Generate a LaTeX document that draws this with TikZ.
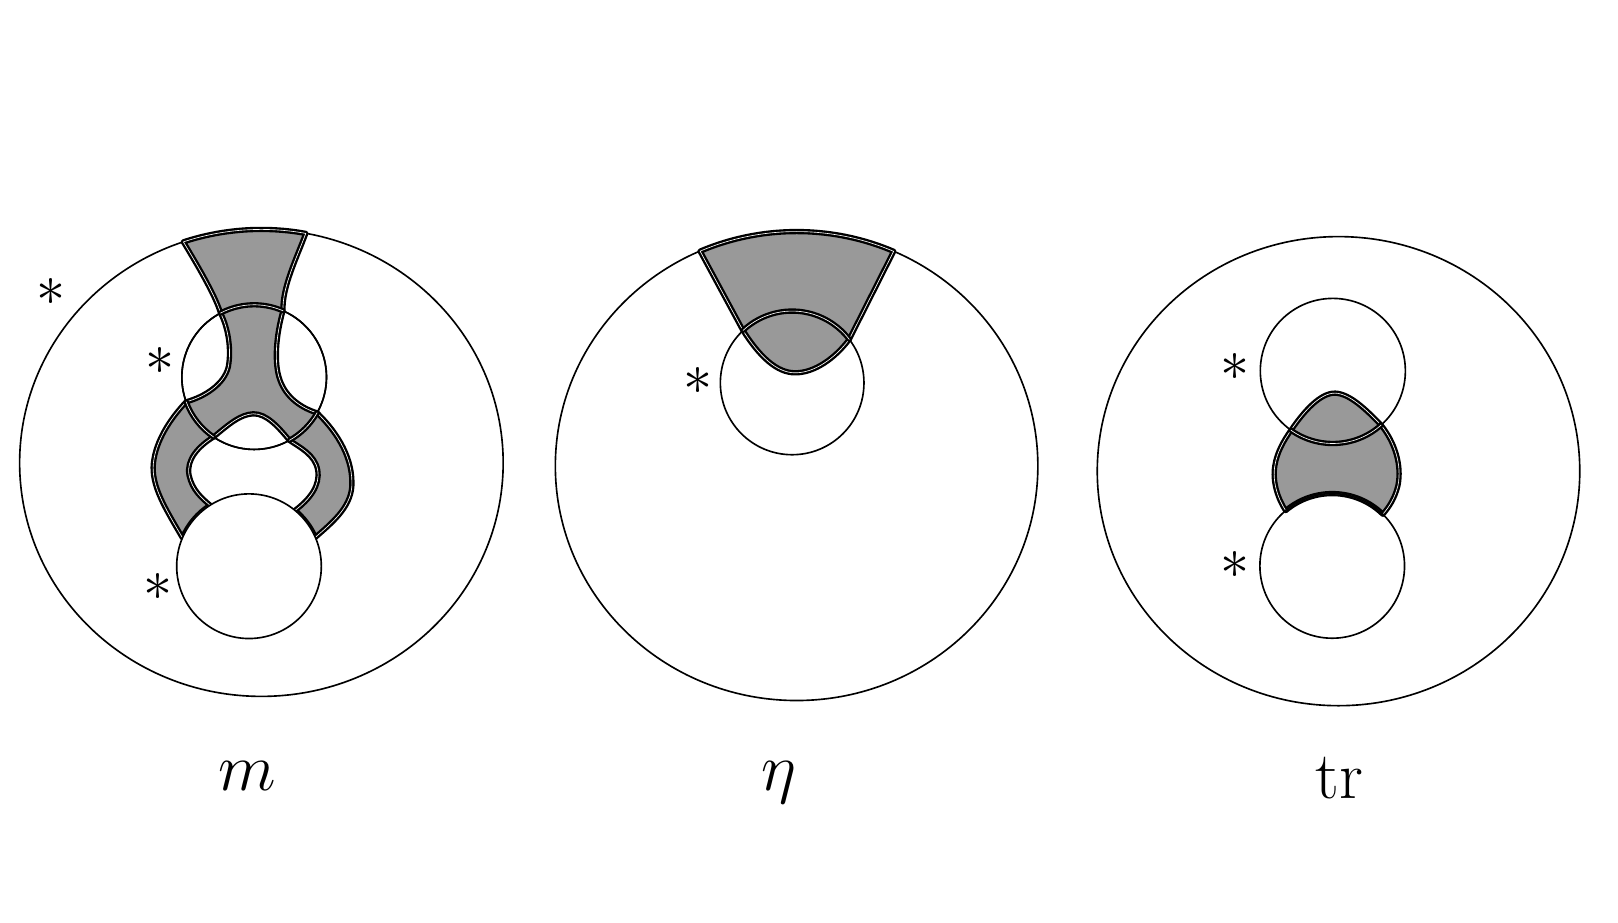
\RequirePackage{fix-cm}
\documentclass[tikz,border=0pt]{standalone}
\usepackage{tikz}

\newlength{\du}
\setlength{\du}{0.02cm}
\definecolor{bandcolor}{rgb}{0.600000, 0.600000, 0.600000}
\tikzset{
  rim/.style={draw=black, line width=0.9pt},
  band/.style={fill=bandcolor, draw=black, double=white, line width=1.3pt, double distance=0.35pt, line join=round},
  seam/.style={draw=black, double=white, line width=1.3pt, double distance=0.35pt, line cap=round},
  basept/.style={inner sep=0pt, font=\fontsize{32}{34}\selectfont},
  maplabel/.style={inner sep=0pt, anchor=base, font=\fontsize{37}{40}\selectfont}
}

\begin{document}
\begin{tikzpicture}
\pgftransformxscale{1.000000}
\pgftransformyscale{-1.000000}
\useasboundingbox (0\du,0\du) rectangle (1566\du,893\du);
% m
\draw[rim] (253\du,448\du) ellipse [x radius=234\du, y radius=226\du];
\draw[rim] (246\du,365\du) circle (70\du);
\path[band] (177.5\du,234.1\du) arc [start angle=251.2, end angle=280.6, x radius=234\du, y radius=226\du]
  .. controls (287\du,250\du) and (273\du,278\du) .. (273.9\du,300.8\du)
  .. controls (267\du,325\du) and (265\du,352\du) .. (271\du,368\du)
  .. controls (277\du,385\du) and (292\du,395\du) .. (306.9\du,399.6\du)
  .. controls (328\du,420\du) and (342\du,445\du) .. (340.5\du,471\du)
  .. controls (339\du,492\du) and (320\du,507\du) .. (305.2\du,520.1\du)
  arc [start angle=336.5, end angle=309.5, radius=70\du]
  .. controls (300\du,483\du) and (310\du,470\du) .. (307.5\du,455\du)
  .. controls (305\du,440\du) and (290\du,433\du) .. (280.1\du,426.1\du)
  .. controls (270\du,414\du) and (258\du,400\du) .. (245\du,400.5\du)
  .. controls (232\du,401\du) and (220\du,412\du) .. (206.7\du,422.9\du)
  .. controls (192\du,432\du) and (180\du,445\du) .. (183\du,460\du)
  .. controls (186\du,474\du) and (195\du,482\du) .. (203.4\du,489\du)
  arc [start angle=237.5, end angle=203.1, radius=70\du]
  .. controls (160\du,492\du) and (146\du,470\du) .. (148.5\du,448\du)
  .. controls (151\du,426\du) and (165\du,405\du) .. (180.2\du,388.9\du)
  .. controls (198\du,384\du) and (217\du,372\du) .. (221\du,355\du)
  .. controls (224\du,338\du) and (221\du,318\du) .. (213.5\du,303\du)
  .. controls (208\du,285\du) and (190\du,255\du) .. cycle;
\draw[rim] (246\du,365\du) circle (70\du);
\draw[seam] (213.45\du,303\du) arc [start angle=242.3, end angle=293.5, radius=70\du];
\draw[seam] (180.2\du,388.9\du) arc [start angle=160, end angle=124.1, radius=70\du];
\draw[seam] (280.15\du,426.1\du) arc [start angle=60.8, end angle=29.6, radius=70\du];
\filldraw[rim, fill=white] (241\du,548\du) circle (70\du);
\node[basept] (mout) at (49\du,283\du) {$\ast$};
\node[basept] (mupper) at (154.9\du,349\du) {$\ast$};
\node[basept] (mlower) at (153.3\du,568.5\du) {$\ast$};
\node[maplabel] (mlabel) at (239\du,765\du) {$m$};
% eta
\draw[rim] (771\du,451\du) ellipse [x radius=233.5\du, y radius=227\du];
\draw[rim] (766.7\du,370.6\du) circle (69.5\du);
\path[band] (677.6\du,243.1\du) arc [start angle=246.4, end angle=293.7, x radius=233.5\du, y radius=227\du]
  -- (821.9\du,328.5\du)
  .. controls (808\du,347\du) and (788\du,361\du) .. (769.6\du,360.8\du)
  .. controls (752\du,361\du) and (735\du,345\du) .. (718.9\du,319.5\du)
  -- cycle;
\draw[seam] (719.2\du,319.8\du) arc [start angle=226.9, end angle=322.7, radius=69.5\du];
\node[basept] (etapt) at (676\du,368.5\du) {$\ast$};
\node[maplabel] (etalabel) at (754\du,765\du) {$\eta$};
% tr
\draw[rim] (1295.5\du,456\du) ellipse [x radius=233.5\du, y radius=227\du];
\path[band] (1249.5\du,416.4\du)
  .. controls (1262\du,398\du) and (1278\du,380\du) .. (1292.4\du,380.5\du)
  .. controls (1306\du,381\du) and (1322\du,396\du) .. (1336.6\du,411.4\du)
  .. controls (1350\du,428\du) and (1357\du,450\du) .. (1353\du,470\du)
  .. controls (1350\du,482\du) and (1345\du,490\du) .. (1338.4\du,497.7\du)
  arc [start angle=314.4, end angle=229.9, radius=70\du]
  .. controls (1237\du,483\du) and (1231\du,466\du) .. (1234\du,450\du)
  .. controls (1236\du,438\du) and (1242\du,427\du) .. cycle;
\draw[rim] (1290\du,359\du) circle (70.2\du);
\draw[rim] (1289.4\du,547.7\du) circle (70\du);
\draw[seam] (1249.5\du,416.4\du) arc [start angle=125.2, end angle=48.3, radius=70.2\du];
\node[basept] (trupper) at (1195\du,355.5\du) {$\ast$};
\node[basept] (trlower) at (1195\du,546.5\du) {$\ast$};
\node[maplabel] (trlabel) at (1296\du,773\du) {$\mathrm{tr}$};
\end{tikzpicture}
\end{document}
